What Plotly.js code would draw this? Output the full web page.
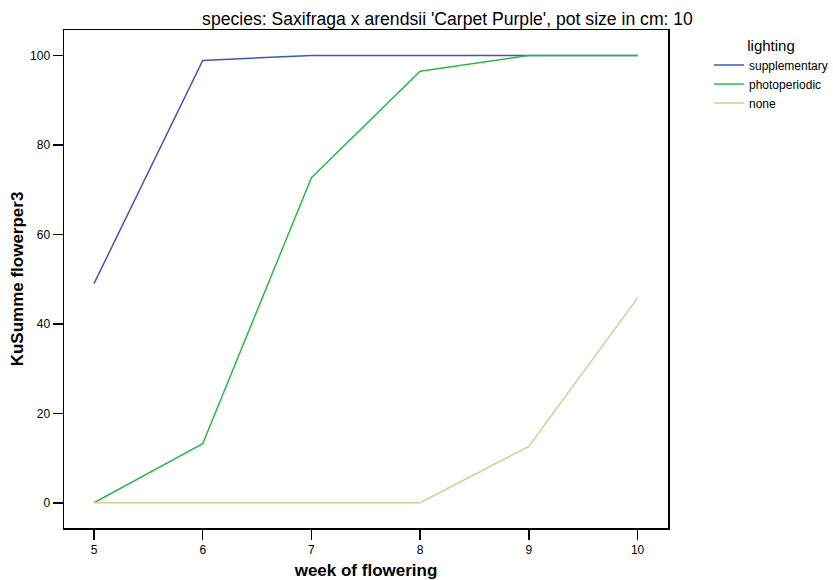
<!DOCTYPE html>
<html>
<head>
<meta charset="utf-8">
<script src="https://cdn.plot.ly/plotly-3.0.1.min.js"></script>
<style>html,body{margin:0;padding:0;background:#fff;}#chart{width:833px;height:580px;}</style>
</head>
<body>
<div id="chart"></div>
<script>
const weeks = [5, 6, 7, 8, 9, 10];
const seriesNames = ["supplementary", "photoperiodic", "none"];
const supplementary = [49.0, 98.9, 100, 100, 100, 100];
const photoperiodic = [0, 13.2, 72.7, 96.5, 100, 100];
const none = [0, 0, 0, 0, 12.6, 45.8];
const seriesColors = ["#3e58ac", "#2eb848", "#d3ce97"];
const xTicks = [5, 6, 7, 8, 9, 10];
const yTicks = [0, 20, 40, 60, 80, 100];

const values = [supplementary, photoperiodic, none];
const data = values.map((v, i) => ({
  x: weeks, y: v, type: 'scatter', mode: 'lines', name: seriesNames[i],
  line: {color: seriesColors[i], width: 1.5}
}));

const font = 'Liberation Sans, Arial, sans-serif';
const layout = {
  width: 833, height: 580,
  margin: {l: 64, r: 165, t: 30, b: 52, autoexpand: false},
  paper_bgcolor: '#fff', plot_bgcolor: '#fff',
  font: {family: font, color: '#000', size: 12},
  title: {text: "species: Saxifraga x arendsii 'Carpet Purple', pot size in cm: 10",
    font: {size: 17.6, family: font, color: '#000'},
    xref: 'container', yref: 'container', x: 447.5/833, xanchor: 'center', y: 1 - 19/580, yanchor: 'middle'},
  xaxis: {range: [4.724, 10.28], tickvals: xTicks, ticktext: xTicks.map(String),
    showgrid: false, zeroline: false, showline: true, mirror: true, linecolor: '#000', linewidth: 1.5,
    ticks: 'outside', ticklen: 10, tickwidth: 1.5, tickcolor: '#000', tickfont: {size: 12},
    title: {text: '<b>week of flowering</b>', font: {size: 17}, standoff: 8}},
  yaxis: {range: [-5.64, 105.7], tickvals: yTicks, ticktext: yTicks.map(String),
    showgrid: false, zeroline: false, showline: true, mirror: true, linecolor: '#000', linewidth: 1.5,
    ticks: 'outside', ticklen: 10, tickwidth: 1.5, tickcolor: '#000', tickfont: {size: 12},
    title: {text: '<b>KuSumme flowerper3</b>', font: {size: 17}, standoff: 2}},
  legend: {x: (709 - 64) / 604, xanchor: 'left', y: 1.0 - 1/497.5, yanchor: 'top',
    font: {size: 12}, title: {text: 'lighting', font: {size: 15}, side: 'top center'},
    bgcolor: 'rgba(0,0,0,0)', tracegroupgap: 0}
};
Plotly.newPlot('chart', data, layout, {displayModeBar: false, staticPlot: true});
</script>
</body>
</html>
